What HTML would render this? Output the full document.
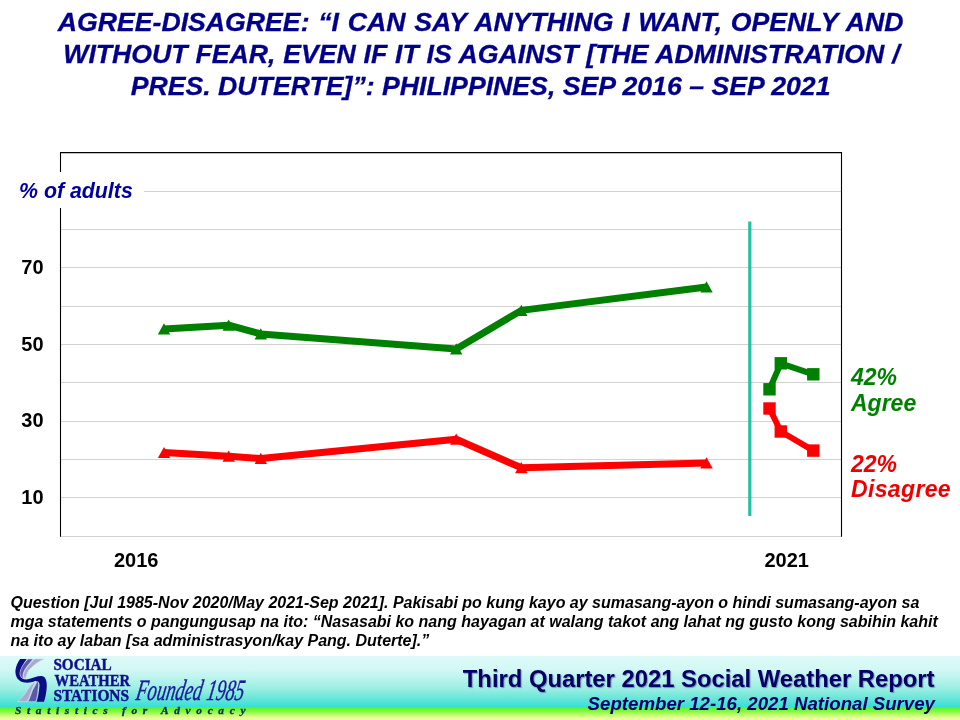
<!DOCTYPE html>
<html lang="en">
<head>
<meta charset="utf-8">
<title>Agree-Disagree: Third Quarter 2021 Social Weather Report</title>
<style>
html,body{margin:0;padding:0;}
body{width:960px;height:720px;position:relative;overflow:hidden;background:#fff;font-family:"Liberation Sans",sans-serif;}
.title{position:absolute;left:0;top:6px;-webkit-text-stroke:0.3px #00008b;width:960px;height:96px;color:#00008b;font-weight:bold;font-style:italic;font-size:26.67px;line-height:32px;white-space:nowrap;}
.tl{position:absolute;left:0;width:960px;height:32px;text-align:center;}
#t1{top:0;word-spacing:1.3px;left:0.6px}#t2{top:32px;word-spacing:0.4px;left:1.4px}#t3{top:64px;left:0.6px}
.tl span{position:absolute;top:0;white-space:pre;}
.chart,.logo{position:absolute;left:0;top:0;width:960px;height:720px;}
.note{position:absolute;left:10.5px;top:592.9px;font-weight:bold;font-style:italic;font-size:16px;line-height:19px;color:#000;white-space:nowrap;}
.footer{position:absolute;left:0;top:656px;width:960px;height:64px;background:linear-gradient(to bottom,#dcfaf8 0%,#d4f8f5 20%,#b8f4ec 36%,#98eee2 52%,#68e6d8 66%,#44e0d6 76%,#38dfd8 79.5%,#5cf828 81.5%,#80f838 86%,#c0fa70 92%,#ecfc9c 97%,#f0fca0 100%);}
.f1{position:absolute;right:25.5px;top:9px;font-weight:bold;font-size:23.8px;line-height:28px;color:#000066;white-space:nowrap;text-shadow:1px 1px 1px rgba(110,110,160,.75);}
.f2{position:absolute;right:25px;top:37px;font-weight:bold;font-style:italic;font-size:18.67px;line-height:22px;color:#000066;white-space:nowrap;}
</style>
</head>
<body>
<div class="title">
<div class="tl" id="t1">AGREE-DISAGREE: “I CAN SAY ANYTHING I WANT, OPENLY AND</div>
<div class="tl" id="t2">WITHOUT FEAR, EVEN IF IT IS AGAINST [THE ADMINISTRATION /</div>
<div class="tl" id="t3">PRES. DUTERTE]”: PHILIPPINES, SEP 2016 – SEP 2021</div>
</div>

<svg class="chart" width="960" height="720" viewBox="0 0 960 720">
<line x1="60" y1="536.5" x2="842" y2="536.5" stroke="#d2d2d2" stroke-width="1"/>
<line x1="60" y1="497.5" x2="842" y2="497.5" stroke="#d2d2d2" stroke-width="1"/>
<line x1="60" y1="459.5" x2="842" y2="459.5" stroke="#d2d2d2" stroke-width="1"/>
<line x1="60" y1="421.5" x2="842" y2="421.5" stroke="#d2d2d2" stroke-width="1"/>
<line x1="60" y1="382.5" x2="842" y2="382.5" stroke="#d2d2d2" stroke-width="1"/>
<line x1="60" y1="344.5" x2="842" y2="344.5" stroke="#d2d2d2" stroke-width="1"/>
<line x1="60" y1="306.5" x2="842" y2="306.5" stroke="#d2d2d2" stroke-width="1"/>
<line x1="60" y1="267.5" x2="842" y2="267.5" stroke="#d2d2d2" stroke-width="1"/>
<line x1="60" y1="229.5" x2="842" y2="229.5" stroke="#d2d2d2" stroke-width="1"/>
<line x1="60" y1="191.5" x2="842" y2="191.5" stroke="#d2d2d2" stroke-width="1"/>
<path d="M60.5 536.8 V152.6 H841.5 V536.8" fill="none" stroke="#000" stroke-width="1.1"/>
<rect x="15" y="172" width="129" height="36" fill="#fff"/>
<text x="19" y="197.5" font-size="21.33" font-weight="bold" font-style="italic" fill="#0000a0" id="pa">% of adults</text>
<text x="21.3" y="274.0" font-size="20" font-weight="bold" fill="#000" id="y70">70</text>
<text x="21.3" y="350.6" font-size="20" font-weight="bold" fill="#000" id="y50">50</text>
<text x="21.3" y="427.3" font-size="20" font-weight="bold" fill="#000" id="y30">30</text>
<text x="21.3" y="504.0" font-size="20" font-weight="bold" fill="#000" id="y10">10</text>
<text x="114" y="566.8" font-size="20" font-weight="bold" fill="#000" id="x2016">2016</text>
<text x="764.5" y="566.8" font-size="20" font-weight="bold" fill="#000" id="x2021">2021</text>
<line x1="749.8" y1="221.4" x2="749.8" y2="516" stroke="#1fc39d" stroke-width="3.2"/>
<path d="M164 329 L228.7 325.2 L260.8 334 L456.2 349 L521.3 310.4 L706.5 287" fill="none" stroke="#008000" stroke-width="7" stroke-linejoin="round"/>
<path d="M164 323.3 L170.2 334.5 H157.8 Z" fill="#008000"/>
<path d="M228.7 319.5 L234.89999999999998 330.7 H222.5 Z" fill="#008000"/>
<path d="M260.8 328.3 L267.0 339.5 H254.60000000000002 Z" fill="#008000"/>
<path d="M456.2 343.3 L462.4 354.5 H450.0 Z" fill="#008000"/>
<path d="M521.3 304.7 L527.5 315.9 H515.0999999999999 Z" fill="#008000"/>
<path d="M706.5 281.3 L712.7 292.5 H700.3 Z" fill="#008000"/>
<path d="M164 452.6 L228.7 456.2 L260.8 458.5 L456.2 439.2 L521.3 467.8 L706.5 463" fill="none" stroke="#ff0000" stroke-width="7" stroke-linejoin="round"/>
<path d="M164 446.90000000000003 L170.2 458.1 H157.8 Z" fill="#ff0000"/>
<path d="M228.7 450.5 L234.89999999999998 461.7 H222.5 Z" fill="#ff0000"/>
<path d="M260.8 452.8 L267.0 464.0 H254.60000000000002 Z" fill="#ff0000"/>
<path d="M456.2 433.5 L462.4 444.7 H450.0 Z" fill="#ff0000"/>
<path d="M521.3 462.1 L527.5 473.3 H515.0999999999999 Z" fill="#ff0000"/>
<path d="M706.5 457.3 L712.7 468.5 H700.3 Z" fill="#ff0000"/>
<path d="M769.5 389.3 L780.8 363.3 L813.3 374.3" fill="none" stroke="#008000" stroke-width="6" stroke-linejoin="round"/>
<rect x="763.3" y="383.1" width="12.4" height="12.4" fill="#008000"/>
<rect x="774.6" y="357.1" width="12.4" height="12.4" fill="#008000"/>
<rect x="807.1" y="368.1" width="12.4" height="12.4" fill="#008000"/>
<path d="M769.5 408.5 L780.8 431.5 L813.3 450.6" fill="none" stroke="#ff0000" stroke-width="6" stroke-linejoin="round"/>
<rect x="763.3" y="402.3" width="12.4" height="12.4" fill="#ff0000"/>
<rect x="774.6" y="425.3" width="12.4" height="12.4" fill="#ff0000"/>
<rect x="807.1" y="444.4" width="12.4" height="12.4" fill="#ff0000"/>
<text x="851" y="384.6" font-size="23" font-weight="bold" font-style="italic" fill="#008000" id="l1">42%</text>
<text x="851" y="410.8" font-size="23" font-weight="bold" font-style="italic" fill="#008000" id="l2">Agree</text>
<text x="851" y="471.7" font-size="23" font-weight="bold" font-style="italic" fill="#ee0000" id="l3">22%</text>
<text x="851" y="497.3" font-size="23" font-weight="bold" font-style="italic" fill="#ee0000" letter-spacing="0.35" id="l4">Disagree</text>
</svg>

<div class="note">
<div id="n1">Question [Jul 1985-Nov 2020/May 2021-Sep 2021]. Pakisabi po kung kayo ay sumasang-ayon o hindi sumasang-ayon sa</div>
<div id="n2">mga statements o pangungusap na ito: “Nasasabi ko nang hayagan at walang takot ang lahat ng gusto kong sabihin kahit</div>
<div id="n3">na ito ay laban [sa administrasyon/kay Pang. Duterte].”</div>
</div>

<div class="footer">
<div class="f1" id="f1">Third Quarter 2021 Social Weather Report</div>
<div class="f2" id="f2">September 12-16, 2021 National Survey</div>
</div>
<svg class="logo" width="960" height="720" viewBox="0 0 960 720">
<g transform="translate(10 654) scale(0.07225)">
<path d="M340,68 L470,68 C380,110 260,200 240,260 C225,300 215,330 215,348 C195,335 185,310 188,285 C195,220 270,140 340,68 Z" fill="#a9a9c9" stroke="#d4dcf6" stroke-width="9"/>
<path d="M250,68 L322,68 C250,150 185,230 180,290 C178,315 185,335 195,345 C160,335 130,300 137,250 C150,180 200,120 250,68 Z" fill="#5a5aa8" stroke="#d4dcf6" stroke-width="9"/>
<path d="M105,660 L232,660 C262,610 285,555 302,500 C320,440 345,400 355,378 C320,400 280,440 240,500 C200,570 150,620 105,660 Z" fill="#a9a9c9" stroke="#d4dcf6" stroke-width="9"/>
<path d="M250,660 L357,660 C375,610 385,555 388,500 C392,450 410,395 372,372 C372,400 345,440 312,500 C290,560 270,620 250,660 Z" fill="#5a5aa8" stroke="#d4dcf6" stroke-width="9"/>
<path d="M140,68 L232,68 C170,150 125,230 135,290 C145,335 190,360 250,350 C320,335 380,300 440,305 C500,310 520,400 505,500 C498,560 485,615 470,660 L370,660 C385,610 395,555 402,500 C410,440 425,372 350,375 C300,395 250,400 200,395 C120,385 70,320 75,230 C80,170 110,110 140,68 Z" fill="#0c0c84"/>
</g>
<g font-family="'Liberation Serif',serif" font-weight="bold" fill="#10108c" stroke="#10108c" stroke-width="0.45">
<text x="53.4" y="670.4" font-size="16.5" textLength="58.3" lengthAdjust="spacingAndGlyphs">SOCIAL</text>
<text x="54.6" y="685.5" font-size="16.5" textLength="75.4" lengthAdjust="spacingAndGlyphs">WEATHER</text>
<text x="53.4" y="700.9" font-size="16.5" textLength="75.7" lengthAdjust="spacingAndGlyphs">STATIONS</text>
</g>
<text x="15" y="714" font-family="'Liberation Serif',serif" font-weight="bold" font-style="italic" font-size="11.4" fill="#0a2a6a" stroke="#0a2a6a" stroke-width="0.3" textLength="230.5" lengthAdjust="spacing">Statistics for Advocacy</text>
<text transform="translate(135 699.5) skewX(-10)" x="0" y="0" font-family="'Liberation Serif',serif" font-style="italic" font-size="29.5" fill="#1a1aa0" stroke="#1a1aa0" stroke-width="0.4" textLength="108" lengthAdjust="spacingAndGlyphs" id="founded">Founded 1985</text>
</svg>
</body>
</html>
